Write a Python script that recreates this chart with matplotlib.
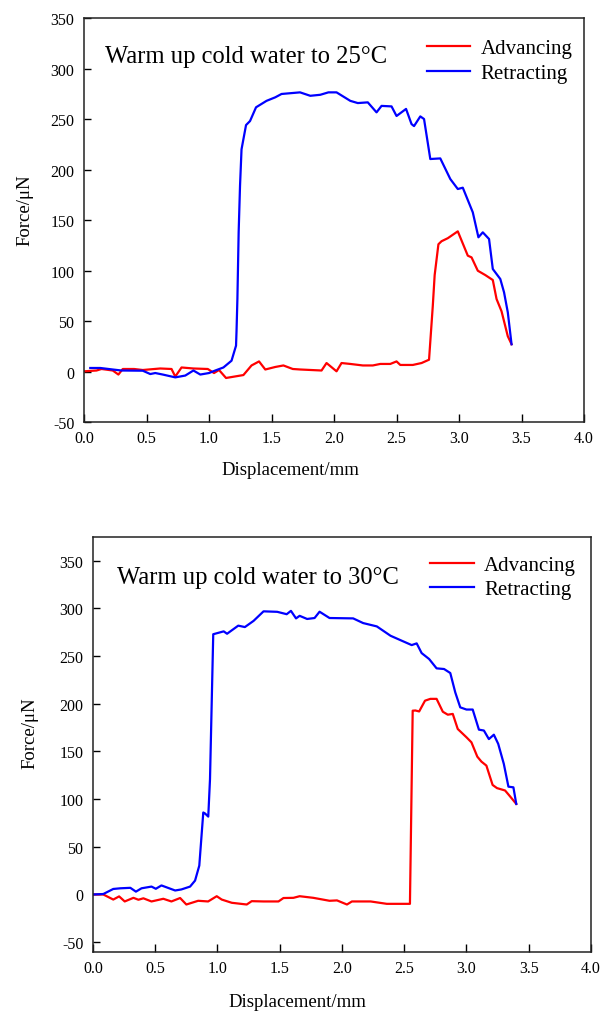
#!/usr/bin/env python3
"""Force vs displacement, advancing / retracting, cold water warmed to 25 and 30 C."""

import matplotlib
matplotlib.use("Agg")
import matplotlib.pyplot as plt

# --- 25 C panel ---
x25_adv = [0.0, 0.1, 0.14, 0.23, 0.275, 0.31, 0.40, 0.47, 0.61, 0.70, 0.73, 0.78,
           0.875, 0.99, 1.04, 1.08, 1.136, 1.275, 1.34, 1.40, 1.45, 1.53, 1.595,
           1.67, 1.73, 1.90, 1.94, 2.02, 2.06, 2.13, 2.23, 2.31, 2.37, 2.45, 2.50,
           2.53, 2.63, 2.70, 2.76, 2.79, 2.805, 2.835, 2.86, 2.91, 2.99, 3.07,
           3.10, 3.15, 3.21, 3.27, 3.30, 3.34, 3.39, 3.42]
f25_adv = [0.2, 1, 2.5, 1, -3, 2.5, 2.5, 1.5, 3, 2.5, -5, 4,
           3, 2.5, -1.5, 1.5, -6.4, -3.5, 6, 10, 2, 4.5, 6,
           2.5, 2, 1, 8.4, 0.2, 8.4, 7.5, 6, 6, 7.5, 7.5, 10,
           6.5, 6.5, 8.4, 11.7, 65, 95.5, 126, 129, 132, 138.8, 114.7,
           113, 99.8, 95.5, 90.6, 71.8, 59.6, 34.9, 27]

x25_ret = [0.05, 0.13, 0.23, 0.30, 0.47, 0.53, 0.57, 0.63, 0.73, 0.81, 0.875, 0.93,
           1.00, 1.05, 1.115, 1.18, 1.216, 1.22, 1.227, 1.237, 1.248, 1.26, 1.296,
           1.328, 1.376, 1.46, 1.53, 1.58, 1.728, 1.81, 1.89, 1.955, 2.02, 2.13,
           2.19, 2.27, 2.34, 2.38, 2.46, 2.50, 2.576, 2.62, 2.64, 2.69, 2.72, 2.77,
           2.85, 2.93, 2.99, 3.03, 3.11, 3.155, 3.19, 3.24, 3.27, 3.33, 3.36, 3.39,
           3.42]
f25_ret = [3.5, 3.5, 2, 1, 0.8, -2.5, -1.5, -3, -5.8, -4, 1, -3,
           -1.5, 1, 4, 10.7, 25.6, 40, 72, 138, 184, 220, 244,
           248, 261.6, 268, 271.5, 274.8, 276.4, 273, 274, 276.4, 276.4, 268,
           265.8, 266.5, 256.6, 263, 262.5, 253, 260, 245, 243, 252.6, 250, 210.4,
           211, 190.6, 180.7, 182, 157.6, 132.9, 137.8, 131.2, 101.5, 91.6, 78.4, 58.6,
           27]

# --- 30 C panel ---
x30_adv = [0.0, 0.083, 0.163, 0.21, 0.255, 0.325, 0.365, 0.405, 0.47, 0.565, 0.63,
           0.70, 0.75, 0.845, 0.925, 0.994, 1.034, 1.115, 1.235, 1.275, 1.37, 1.49,
           1.53, 1.61, 1.66, 1.77, 1.90, 1.96, 2.04, 2.08, 2.23, 2.36, 2.546, 2.568,
           2.59, 2.62, 2.667, 2.71, 2.76, 2.81, 2.85, 2.89, 2.93, 3.00, 3.04, 3.087,
           3.12, 3.16, 3.21, 3.245, 3.31, 3.34, 3.40]
f30_adv = [0, 0, -5.3, -2, -7.3, -3.5, -5.5, -4, -7.3, -4.5, -7.3,
           -3.7, -10.5, -6.6, -7.3, -1.8, -5.3, -8.7, -10.5, -7, -7.3, -7.3,
           -3.7, -3.5, -1.8, -3.5, -6.6, -6.2, -10.5, -7.3, -7.3, -9.8, -9.8, 192.8,
           193, 192, 203.3, 205.2, 205.2, 191.7, 188.6, 189.4, 173.6, 164.9, 159.6, 144.6,
           139.4, 135.2, 114.9, 111.6, 109.1, 104.5, 95]

x30_ret = [0.0, 0.083, 0.163, 0.22, 0.30, 0.345, 0.39, 0.47, 0.505, 0.55, 0.66, 0.71,
           0.78, 0.82, 0.854, 0.886, 0.90, 0.926, 0.94, 0.966, 1.05, 1.077, 1.167,
           1.22, 1.29, 1.37, 1.48, 1.556, 1.59, 1.631, 1.66, 1.72, 1.78, 1.82, 1.90,
           2.09, 2.17, 2.28, 2.39, 2.48, 2.56, 2.60, 2.64, 2.70, 2.76, 2.82, 2.87,
           2.91, 2.95, 3.00, 3.05, 3.10, 3.14, 3.18, 3.22, 3.255, 3.30, 3.337, 3.377,
           3.40]
f30_ret = [0, 0.5, 5.8, 6.5, 7, 3, 6.5, 8.3, 6, 9.5, 4.2, 5.3,
           8.3, 14.6, 30.3, 86, 85, 81.7, 121, 273, 276, 273.5, 282,
           280.5, 287, 297, 296.5, 294, 297.5, 289.6, 292.3, 289, 290, 296.6, 290,
           289.6, 284.7, 281.2, 271.4, 266.2, 261.6, 263.4, 253.2, 247, 237.2, 236.5, 232.3,
           212, 196.3, 194, 194, 172.9, 172, 163, 167.6, 158, 137, 113.1, 112.4,
           95]

titles = ["Warm up cold water to 25\u00b0C", "Warm up cold water to 30\u00b0C"]
x_ticks = [0.0, 0.5, 1.0, 1.5, 2.0, 2.5, 3.0, 3.5, 4.0]
y_ticks = [-50, 0, 50, 100, 150, 200, 250, 300, 350]

plt.rcParams["font.family"] = ["Liberation Serif", "DejaVu Serif"]
plt.rcParams["axes.unicode_minus"] = False


def style_axes(ax, ylim, title, title_xy, ylabel_xy, xlabel_xy, leg_anchor):
    ax.set_xlim(0, 4.0)
    ax.set_ylim(*ylim)
    ax.set_xticks(x_ticks)
    ax.set_xticklabels([f"{t:.1f}" for t in x_ticks])
    ax.set_yticks(y_ticks)
    ax.tick_params(axis="x", direction="in", length=6, width=1.0, pad=6, labelsize=11.5)
    ax.tick_params(axis="y", direction="in", length=5, width=1.0, pad=7, labelsize=11.5)
    for sp in ax.spines.values():
        sp.set_linewidth(1.1)
        sp.set_color("#222222")
    ax.set_xlabel("Displacement/mm", fontsize=13.5, va="center")
    ax.xaxis.set_label_coords(*xlabel_xy)
    ax.set_ylabel("Force/\u03bcN", fontsize=13.5, va="center")
    ax.yaxis.set_label_coords(*ylabel_xy)
    ax.text(title_xy[0], title_xy[1], title, transform=ax.transAxes,
            fontsize=17.7, ha="left", va="baseline")
    ax.legend(loc="upper left", bbox_to_anchor=leg_anchor, frameon=False,
              fontsize=15, handlelength=2.1, handletextpad=0.5,
              labelspacing=0.24, borderpad=0, borderaxespad=0)


def main() -> None:
    fig = plt.figure(figsize=(6.01, 10.12), dpi=100)
    ax1 = fig.add_axes([0.1398, 0.582, 0.832, 0.3992])
    ax2 = fig.add_axes([0.1547, 0.0586, 0.8286, 0.4098])

    ax1.plot(x25_adv, f25_adv, color="#ff0000", lw=1.6, label="Advancing")
    ax1.plot(x25_ret, f25_ret, color="#0000ff", lw=1.6, label="Retracting")
    style_axes(ax1, (-50, 350), titles[0], (0.042, 0.890),
               (-0.118, 0.527), (0.412, -0.1176), (0.685, 0.949))

    ax2.plot(x30_adv, f30_adv, color="#ff0000", lw=1.6, label="Advancing")
    ax2.plot(x30_ret, f30_ret, color="#0000ff", lw=1.6, label="Retracting")
    style_axes(ax2, (-60, 375), titles[1], (0.0476, 0.889),
               (-0.1275, 0.53), (0.41, -0.12), (0.677, 0.956))

    fig.savefig("out.png", dpi=100)


if __name__ == "__main__":
    main()
